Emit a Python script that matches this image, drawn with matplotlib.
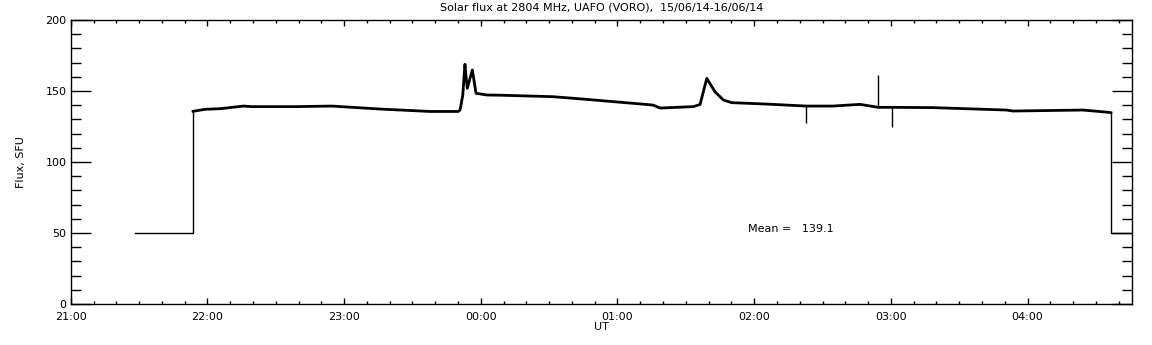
"""
Solar radio flux at 2804 MHz, UAFO (VORO), 15/06/14-16/06/14.
"""

import matplotlib
matplotlib.use("Agg")
import matplotlib.pyplot as plt
from matplotlib.ticker import MultipleLocator, FixedLocator

# time in hours after 21:00 UT
t_flux = [0.895, 0.982, 1.10, 1.263, 1.324, 1.641, 1.909, 2.263, 2.628,
          2.835, 2.848, 2.868, 2.884, 2.892, 2.901, 2.938, 2.965, 3.043,
          3.162, 3.528, 3.775, 4.214, 4.260, 4.311, 4.555, 4.604, 4.653,
          4.713, 4.774, 4.835, 5.091, 5.381, 5.576, 5.774, 5.908, 6.010,
          6.308, 6.847, 6.893, 7.405, 7.603, 7.610]
v_flux = [135.7, 137.1, 137.6, 139.4, 139.0, 139.0, 139.4, 137.3, 135.6,
          135.6, 136.6, 147.0, 168.8, 160.0, 151.9, 164.8, 148.4, 147.2,
          147.0, 146.0, 144.1, 140.5, 140.1, 138.0, 139.0, 140.5, 158.9,
          149.5, 143.7, 141.8, 140.8, 139.4, 139.4, 140.6, 138.5, 138.5,
          138.3, 136.6, 135.9, 136.6, 134.9, 134.7]

# calibration levels before and after the observation
t_cal_start = [0.4726, 0.895, 0.895]
v_cal_start = [50, 50, 135.7]
t_cal_end = [7.610, 7.610, 7.762]
v_cal_end = [134.7, 50, 50]

# isolated spikes: time, base level, tip
spike_t = [5.381, 5.908, 6.010]
spike_base = [139.2, 138.8, 138.6]
spike_tip = [127.2, 161.3, 124.4]

hour_labels = ["21:00", "22:00", "23:00", "00:00", "01:00",
               "02:00", "03:00", "04:00"]
mean_flux = 139.1

X_MAX = 7.762

plt.rcParams["font.family"] = "DejaVu Sans"

fig = plt.figure(figsize=(11.52, 3.45), dpi=100)
ax = fig.add_axes([0.0614, 0.1188, 0.9210, 0.8232])

ax.plot(t_flux, v_flux, color="black", linewidth=2.0)
ax.plot(t_cal_start, v_cal_start, color="black", linewidth=1.0)
ax.plot(t_cal_end, v_cal_end, color="black", linewidth=1.0)
ax.vlines(spike_t, spike_base, spike_tip, color="black", linewidth=1.0)

ax.set_xlim(0, X_MAX)
ax.set_ylim(0, 200)

ax.xaxis.set_major_locator(FixedLocator(range(len(hour_labels))))
ax.set_xticklabels(hour_labels)
ax.xaxis.set_minor_locator(MultipleLocator(1 / 6))
ax.yaxis.set_major_locator(MultipleLocator(50))
ax.yaxis.set_minor_locator(MultipleLocator(10))

ax.tick_params(axis="x", which="major", direction="in", length=4,
               width=1, top=True, bottom=True, pad=6, labelsize=8)
ax.tick_params(axis="x", which="minor", direction="in", length=2,
               width=1, top=True, bottom=True)
ax.tick_params(axis="y", which="major", direction="in", length=14.4,
               width=1, left=True, right=True, pad=3, labelsize=8)
ax.tick_params(axis="y", which="minor", direction="in", length=7.2,
               width=1, left=True, right=True)

for sp in ax.spines.values():
    sp.set_linewidth(1)

ax.set_xlabel("UT", fontsize=8, labelpad=0)
ax.set_ylabel("Flux, SFU", fontsize=8, labelpad=14)
ax.set_title("Solar flux at 2804 MHz, UAFO (VORO),  15/06/14-16/06/14",
             fontsize=8, pad=6.5)

ax.text(4.955, 52.8, f"Mean =   {mean_flux:.1f}", fontsize=8,
        ha="left", va="center")

fig.savefig("out.png", dpi=100)
